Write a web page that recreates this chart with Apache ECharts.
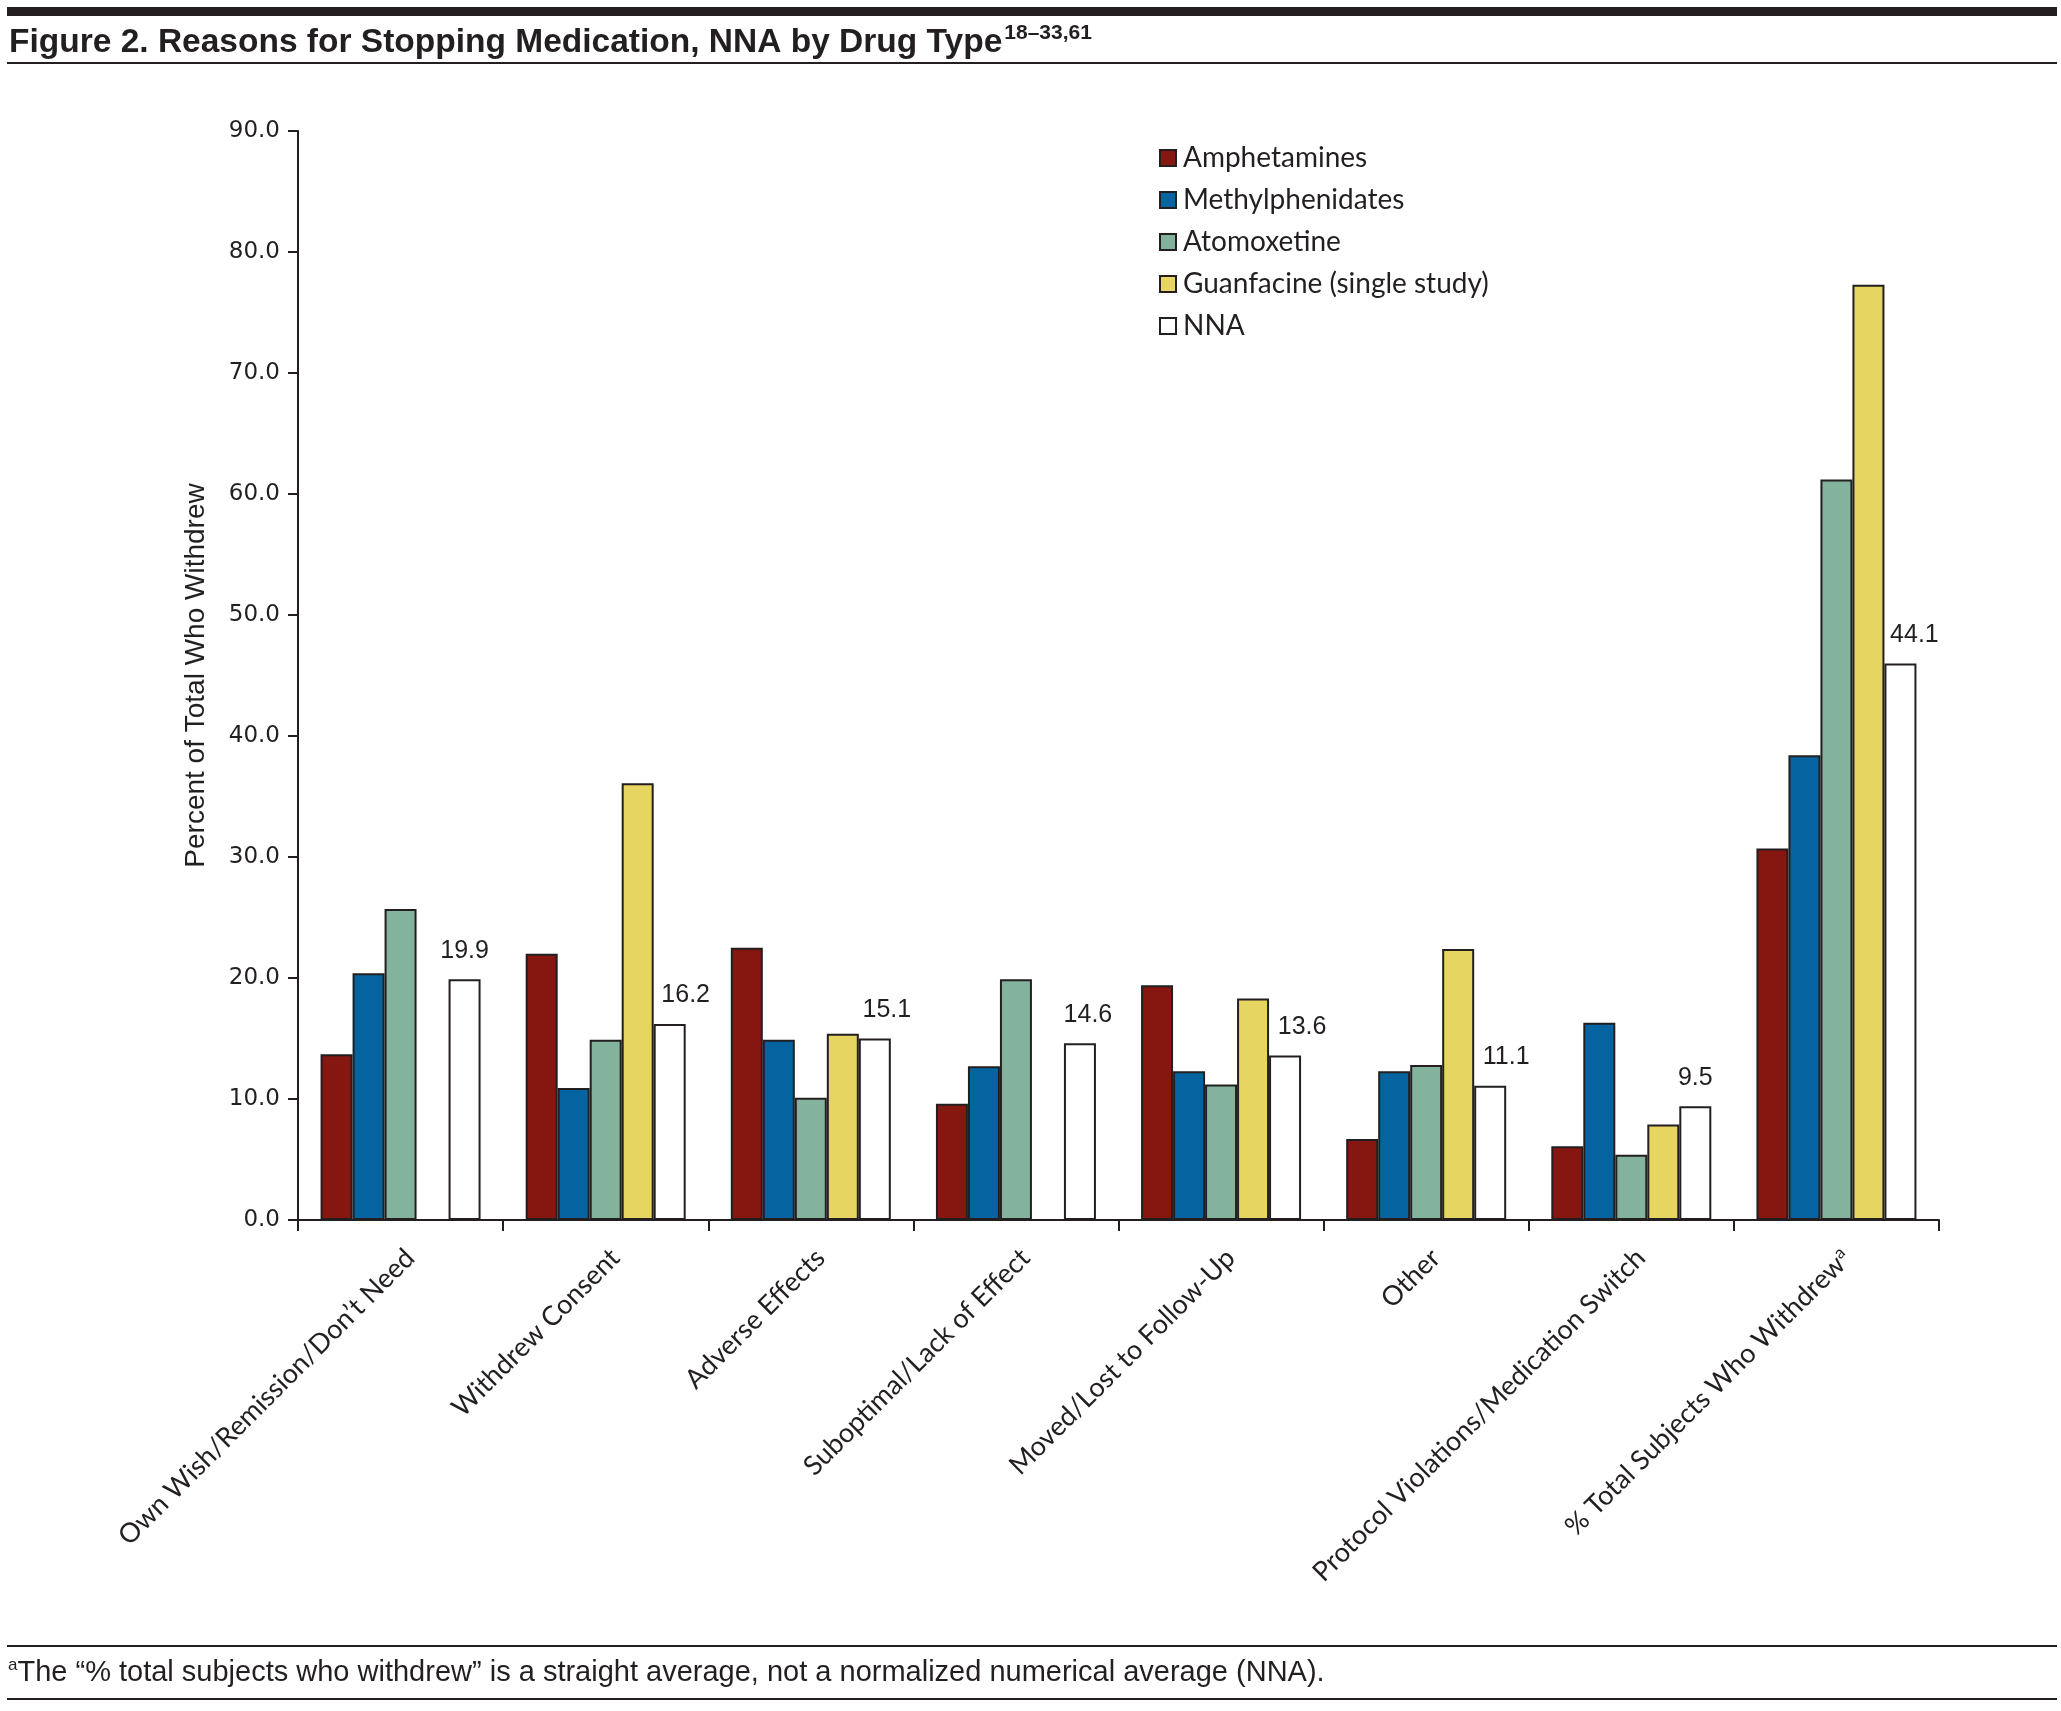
<!DOCTYPE html>
<html>
<head>
<meta charset="utf-8">
<script src="https://cdn.jsdelivr.net/npm/echarts@6/dist/echarts.min.js"></script>
<style>
html,body{margin:0;padding:0;background:#fff;}
#chart{width:2061px;height:1711px;}
</style>
</head>
<body>
<div id="chart"></div>
<script>
// ---- data ----
const categories = ['Own Wish/Remission/Don\u2019t Need', 'Withdrew Consent', 'Adverse Effects', 'Suboptimal/Lack of Effect', 'Moved/Lost to Follow-Up', 'Other', 'Protocol Violations/Medication Switch', '% Total Subjects Who Withdrew'];
const categorySup = ['', '', '', '', '', '', '', 'a'];
const seriesNames = ['Amphetamines', 'Methylphenidates', 'Atomoxetine', 'Guanfacine (single study)', 'NNA'];
const amphetamines = [13.7, 22.0, 22.5, 9.6, 19.4, 6.7, 6.1, 30.7];
const methylphenidates = [20.4, 10.9, 14.9, 12.7, 12.3, 12.3, 16.3, 38.4];
const atomoxetine = [25.7, 14.9, 10.1, 19.9, 11.2, 12.8, 5.4, 61.2];
const guanfacine = [null, 36.1, 15.4, null, 18.3, 22.4, 7.9, 77.3];
const nna = [19.9, 16.2, 15.0, 14.6, 13.6, 11.1, 9.4, 46.0];
const nnaLabels = ['19.9', '16.2', '15.1', '14.6', '13.6', '11.1', '9.5', '44.1'];
const yMin = 0, yMax = 90, yStep = 10;

// ---- styles ----
const INK = '#231f20';
const colors = ['#861610', '#05649f', '#83b39d', '#e6d561', '#ffffff'];
const FONT = 'Lato, "Open Sans", sans-serif';
const NARROW = '"Liberation Sans Narrow", "Liberation Sans", sans-serif';
// horizontal nudge (px) of each NNA value label, as in the original layout
const nnaLabelNudge = [0, 16, 12, 8, 17, 16, 0, 14];

const seriesData = [amphetamines, methylphenidates, atomoxetine, guanfacine, nna];

const chart = echarts.init(document.getElementById('chart'), null, {renderer: 'canvas'});

const series = seriesData.map((d, i) => {
  const s = {
    name: seriesNames[i],
    type: 'bar',
    data: d,
    barGap: '0%',
    barCategoryGap: '22%',
    itemStyle: {color: colors[i], borderColor: INK, borderWidth: 2},
    emphasis: {disabled: true},
    animation: false
  };
  if (i === 4) {
    s.data = d.map((v, k) => ({value: v, label: {offset: [nnaLabelNudge[k], 0]}}));
    s.label = {
      show: true,
      position: 'top',
      distance: 16,
      fontFamily: NARROW,
      fontSize: 25,
      color: INK,
      formatter: p => nnaLabels[p.dataIndex]
    };
  }
  return s;
});

chart.setOption({
  animation: false,
  backgroundColor: '#fff',
  grid: {left: 298, right: 122, top: 131, bottom: 491, containLabel: false},
  legend: {
    orient: 'vertical',
    left: 1154,
    top: 139,
    itemWidth: 16,
    itemHeight: 16,
    itemGap: 14,
    icon: 'rect',
    textStyle: {fontFamily: FONT, fontSize: 28, color: INK, padding: [0, 0, 0, 2]},
    data: seriesNames.map((n, i) => ({name: n, itemStyle: {color: colors[i], borderColor: INK, borderWidth: 2}}))
  },
  xAxis: {
    type: 'category',
    data: categories,
    boundaryGap: true,
    axisLine: {lineStyle: {color: INK, width: 2}},
    axisTick: {show: true, length: 11, lineStyle: {color: INK, width: 2}},
    axisLabel: {
      interval: 0,
      rotate: 45,
      margin: 24,
      verticalAlign: 'top',
      fontFamily: FONT,
      fontSize: 27,
      color: INK,
      formatter: (v, idx) => categorySup[idx] ? v + '{sup|' + categorySup[idx] + '}' : v,
      rich: {sup: {fontFamily: FONT, fontSize: 17, verticalAlign: 'top', color: INK, padding: [0, 0, 12, 0]}}
    }
  },
  yAxis: {
    type: 'value',
    min: yMin,
    max: yMax,
    interval: yStep,
    name: 'Percent of Total Who Withdrew',
    nameLocation: 'middle',
    nameGap: 88,
    nameTextStyle: {fontFamily: NARROW, fontSize: 28, color: INK},
    axisLine: {show: true, lineStyle: {color: INK, width: 2}},
    axisTick: {show: true, length: 10, lineStyle: {color: INK, width: 2}},
    splitLine: {show: false},
    axisLabel: {
      margin: 18,
      fontFamily: '"DejaVu Sans", sans-serif',
      fontSize: 23,
      color: INK,
      formatter: v => v.toFixed(1)
    }
  },
  series: series,
  graphic: [
    {type: 'rect', shape: {x: 7, y: 7, width: 2050, height: 9}, style: {fill: INK}},
    {type: 'text', left: 9, top: 23,
      style: {
        text: '{t|Figure 2. Reasons for Stopping Medication, NNA by Drug Type}{s|18\u201333,61}',
        rich: {
          t: {fontFamily: NARROW, fontWeight: 'bold', fontSize: 33.5, fill: INK, lineHeight: 40},
          s: {fontFamily: NARROW, fontWeight: 'bold', fontSize: 21, fill: INK, verticalAlign: 'top', lineHeight: 40, padding: [0, 0, 14, 2]}
        }
      }},
    {type: 'rect', shape: {x: 7, y: 62, width: 2050, height: 2}, style: {fill: INK}},
    {type: 'rect', shape: {x: 7, y: 1645, width: 2050, height: 2}, style: {fill: INK}},
    {type: 'text', left: 8, top: 1657,
      style: {
        text: '{s|a}{t|The \u201c% total subjects who withdrew\u201d is a straight average, not a normalized numerical average (NNA).}',
        rich: {
          t: {fontFamily: NARROW, fontSize: 29, fill: INK, lineHeight: 32},
          s: {fontFamily: NARROW, fontSize: 17, fill: INK, verticalAlign: 'top', lineHeight: 32, padding: [0, 0, 10, 0]}
        }
      }},
    {type: 'rect', shape: {x: 7, y: 1698, width: 2050, height: 2}, style: {fill: INK}}
  ]
});
</script>
</body>
</html>
